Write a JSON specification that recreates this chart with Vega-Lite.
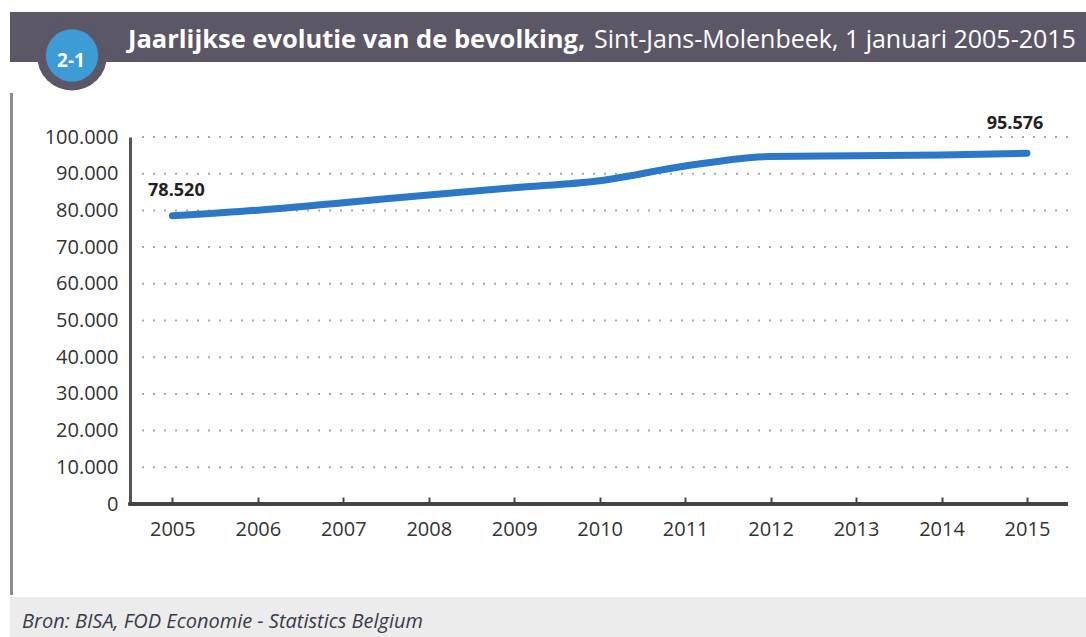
{
  "$schema": "https://vega.github.io/schema/vega-lite/v6.json",
  "padding": {"left": 10, "top": 12, "right": 0, "bottom": 0},
  "background": "white",
  "config": {
    "locale": {"number": {"decimal": ",", "thousands": ".", "grouping": [3], "currency": ["€", ""]}},
    "font": "Open Sans",
    "view": {"stroke": null},
    "axis": {"title": null, "labelOverlap": false},
    "axisY": {"offset": -120, "format": ",d", "labelFontSize": 20, "labelColor": "#333333", "labelPadding": 12, "ticks": false,
              "labelOverlap": false, "domainColor": "#555555", "domainWidth": 3, "grid": false},
    "axisX": {"format": "d", "labelFontSize": 20, "labelColor": "#333333", "labelPadding": 22, "labelFlush": false, "labelOverlap": false,
              "domain": false, "tickColor": "#444444", "tickWidth": 2, "tickSize": -7, "grid": false}
  },
  "spacing": 0,
  "vconcat": [
    {
      "width": 1076,
      "height": 50,
      "view": {"fill": "#5b5767", "stroke": null},
      "data": {"values": [{"badge": "2-1", "title": "Jaarlijkse evolutie van de bevolking,", "subtitle": "Sint-Jans-Molenbeek, 1 januari 2005-2015"}]},
      "layer": [
        {"mark": {"type": "circle", "size": 4900, "color": "#5b5767", "opacity": 1, "xOffset": -476, "yOffset": 18.5}, "encoding": {}},
        {"mark": {"type": "circle", "size": 2734, "color": "#3d9bd6", "opacity": 1, "xOffset": -476, "yOffset": 18.5}, "encoding": {}},
        {"mark": {"type": "text", "color": "white", "fontWeight": "bold", "fontSize": 19, "align": "center", "baseline": "middle", "dx": -477, "dy": 24}, "encoding": {"text": {"field": "badge"}}},
        {"mark": {"type": "text", "color": "white", "fontWeight": "bold", "fontSize": 25.5, "align": "left", "baseline": "alphabetic", "dx": -420, "dy": 11}, "encoding": {"text": {"field": "title"}}},
        {"mark": {"type": "text", "color": "white", "fontWeight": "normal", "fontSize": 25, "align": "left", "baseline": "alphabetic", "dx": 46, "dy": 11}, "encoding": {"text": {"field": "subtitle"}}}
      ]
    },
    {
      "width": 1058,
      "height": 367,
      "data": {"values": [
        {"year": 2005, "population": 78520},
        {"year": 2006, "population": 80050},
        {"year": 2007, "population": 82100},
        {"year": 2008, "population": 84200},
        {"year": 2009, "population": 86200},
        {"year": 2010, "population": 88100},
        {"year": 2011, "population": 92100},
        {"year": 2012, "population": 94700},
        {"year": 2013, "population": 94900},
        {"year": 2014, "population": 95100},
        {"year": 2015, "population": 95576}
      ]},
      "layer": [
        {
          "data": {"values": [
            {"level": 10000}, {"level": 20000}, {"level": 30000}, {"level": 40000}, {"level": 50000},
            {"level": 60000}, {"level": 70000}, {"level": 80000}, {"level": 90000}, {"level": 100000}
          ]},
          "mark": {"type": "rule", "color": "#a8a8a8", "strokeWidth": 2, "strokeDash": [2, 9]},
          "encoding": {
            "x": {"datum": 2004.645, "type": "quantitative"},
            "x2": {"datum": 2015.48},
            "y": {"field": "level", "type": "quantitative", "title": null}
          }
        },
        {
          "mark": {"type": "rule", "color": "#444444", "strokeWidth": 3},
          "encoding": {
            "x": {"datum": 2004.49, "type": "quantitative"},
            "x2": {"datum": 2015.48},
            "y": {"datum": 0, "type": "quantitative"}
          }
        },
        {
          "mark": {"type": "rule", "color": "#8c8c8c", "strokeWidth": 3},
          "encoding": {
            "x": {"datum": 2003.1176, "type": "quantitative"},
            "y": {"datum": 111990, "type": "quantitative"},
            "y2": {"datum": -24800}
          }
        },
        {
          "mark": {"type": "line", "interpolate": "monotone", "strokeWidth": 7, "color": "#2b78c8", "strokeCap": "round"},
          "encoding": {
            "x": {"field": "year", "type": "quantitative", "title": null,
                  "scale": {"domain": [2003.1, 2015.48], "nice": false, "zero": false},
                  "axis": {"values": [2005, 2006, 2007, 2008, 2009, 2010, 2011, 2012, 2013, 2014, 2015]}},
            "y": {"field": "population", "type": "quantitative", "title": null,
                  "scale": {"domain": [0, 100000], "nice": false}}
          }
        },
        {
          "transform": [{"filter": "datum.year == 2005"}],
          "mark": {"type": "text", "fontWeight": "bold", "fontSize": 18, "color": "#222222", "dx": 4, "dy": -25},
          "encoding": {
            "x": {"field": "year", "type": "quantitative", "title": null},
            "y": {"field": "population", "type": "quantitative", "title": null},
            "text": {"field": "population", "type": "quantitative", "format": ",d"}
          }
        },
        {
          "transform": [{"filter": "datum.year == 2015"}],
          "mark": {"type": "text", "fontWeight": "bold", "fontSize": 18, "color": "#222222", "dx": -12, "dy": -29},
          "encoding": {
            "x": {"field": "year", "type": "quantitative", "title": null},
            "y": {"field": "population", "type": "quantitative", "title": null},
            "text": {"field": "population", "type": "quantitative", "format": ",d"}
          }
        }
      ]
    },
    {
      "width": 1076,
      "height": 40,
      "view": {"fill": "#ececec", "stroke": null},
      "data": {"values": [{"source": "Bron: BISA, FOD Economie - Statistics Belgium"}]},
      "mark": {"type": "text", "fontStyle": "italic", "fontSize": 20, "color": "#3a3a4a", "align": "left", "baseline": "alphabetic", "dx": -526, "dy": 11},
      "encoding": {"text": {"field": "source"}}
    }
  ]
}
